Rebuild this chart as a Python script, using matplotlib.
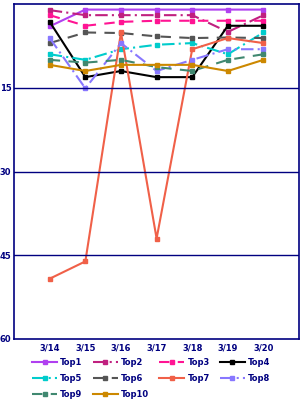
import matplotlib
matplotlib.use("Agg")
from matplotlib import pyplot as plt

dates = ["3/14", "3/15", "3/16", "3/17", "3/18", "3/19", "3/20"]
top1 = [4, 1, 1, 1, 1, 1, 1]
top2 = [1.1, 2, 2, 2, 2, 5, 2]
top3 = [2, 3.9, 3.2, 3, 3, 3, 3]
top4 = [3.2, 13.1, 12, 13.1, 13.1, 3.9, 3.9]
top5 = [9, 10, 8.1, 7.3, 7, 9, 5.1]
top6 = [7, 5.1, 5.2, 5.8, 6.1, 6, 6.1]
top7 = [49.2, 46.1, 5.1, 42, 8.1, 6.1, 7]
top8 = [6.1, 15.1, 7, 12, 10, 8.1, 8.1]
top9 = [10, 10.5, 10, 11.3, 12, 10, 9]
top10 = [10.9, 12, 10.9, 10.9, 10.9, 12, 10]

series = [
    ("Top1", top1, "#b040f0", "-"),
    ("Top2", top2, "#c0207f", (0, (6, 2, 1, 2))),
    ("Top3", top3, "#ff1493", (0, (5, 4))),
    ("Top4", top4, "#000000", "-"),
    ("Top5", top5, "#00cccc", (0, (6, 2, 1, 2))),
    ("Top6", top6, "#555555", (0, (5, 4))),
    ("Top7", top7, "#f06048", "-"),
    ("Top8", top8, "#8877ff", (0, (6, 2, 1, 2))),
    ("Top9", top9, "#408870", (0, (5, 4))),
    ("Top10", top10, "#cc8800", "-"),
]

navy = "#000080"
fig = plt.figure(figsize=(3, 4), dpi=100)
ax = fig.add_axes([0.047, 0.1525, 0.95, 0.8375])

x = list(range(len(dates)))
lines = []
for name, vals, col, ls in series:
    ln, = ax.plot(x, vals, color=col, linestyle=ls, linewidth=1.5,
                  marker="s", markersize=3.5, label=name)
    lines.append(ln)

ax.set_xlim(-1, 7)
ax.set_ylim(60, 0)
ax.set_yticks([15, 30, 45, 60])
ax.set_yticklabels(["15", "30", "45", "60"])
ax.set_xticks(x)
ax.set_xticklabels(dates)
for v in [15, 30, 45]:
    ax.axhline(v, color=navy, linewidth=1)
ax.tick_params(axis="both", length=0, labelsize=6, colors=navy, pad=3)
ax.tick_params(axis="y", pad=2)
for lab in ax.get_xticklabels() + ax.get_yticklabels():
    lab.set_fontweight("bold")
for s in ax.spines.values():
    s.set_color(navy)
    s.set_linewidth(1.2)

# legend filled row by row like the original
order = [0, 4, 8, 1, 5, 9, 2, 6, 3, 7]
leg = fig.legend([lines[i] for i in order], [series[i][0] for i in order],
                 loc="upper left", bbox_to_anchor=(32 / 300, 1 - 358 / 400),
                 ncol=4, fontsize=6, frameon=False, handlelength=3,
                 columnspacing=1.2, handletextpad=0.4, labelspacing=0.85,
                 borderpad=0, borderaxespad=0, labelcolor=navy,
                 prop={"weight": "bold", "size": 6})

fig.savefig("out.png", dpi=100)
